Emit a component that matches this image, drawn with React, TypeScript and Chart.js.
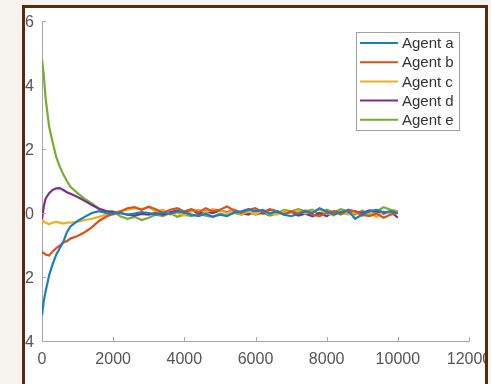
import React, { useEffect, useRef } from "react";
import { Chart, registerables } from "chart.js";

Chart.register(...registerables);

const xs = [
  0, 50, 100, 200, 300, 400, 500, 600, 700, 800, 1000, 1200, 1400, 1600, 1800, 2000,
  2200, 2400, 2600, 2800, 3000, 3200, 3400, 3600, 3800, 4000,
  4200, 4400, 4600, 4800, 5000, 5200, 5400, 5600, 5800, 6000,
  6200, 6400, 6600, 6800, 7000, 7200, 7400, 7600, 7800, 8000,
  8200, 8400, 8600, 8800, 9000, 9200, 9400, 9600, 9800, 10000,
];

const agentA = [
  -3.2, -2.75, -2.45, -1.95, -1.6, -1.3, -1.1, -0.9, -0.6, -0.42, -0.25, -0.12, 0.0, 0.06, 0.0, -0.02,
  0.0, -0.05, -0.02, 0.03, 0.0, -0.05, 0.02, -0.03, 0.05, 0.02,
  -0.05, -0.1, -0.02, -0.12, -0.05, -0.1, 0.02, 0.05, 0.12, 0.05,
  0.1, -0.02, 0.05, -0.05, -0.1, -0.03, 0.05, 0.0, 0.15, 0.05,
  -0.05, 0.03, 0.08, -0.18, -0.05, 0.05, 0.1, 0.02, 0.05, 0.0,
];
const agentB = [
  -1.22, -1.25, -1.3, -1.33, -1.2, -1.1, -1.02, -0.92, -0.88, -0.8, -0.72, -0.6, -0.45, -0.25, -0.12, -0.02,
  0.05, 0.15, 0.18, 0.1, 0.2, 0.12, 0.0, 0.1, 0.15, 0.05,
  0.12, 0.02, 0.15, 0.05, 0.1, 0.2, 0.08, 0.0, 0.1, 0.15,
  0.02, 0.12, 0.05, -0.05, 0.05, -0.02, 0.08, -0.05, -0.1, 0.0,
  0.05, -0.05, 0.1, 0.05, -0.05, -0.1, -0.02, -0.15, -0.05, 0.0,
];
const agentC = [
  -0.2, -0.28, -0.3, -0.35, -0.3, -0.28, -0.3, -0.33, -0.3, -0.3, -0.28, -0.22, -0.18, -0.12, -0.05, -0.05,
  0.05, 0.1, 0.15, 0.12, 0.18, 0.05, 0.1, -0.05, 0.0, -0.08,
  0.05, 0.1, 0.02, 0.12, 0.08, 0.0, 0.1, -0.05, 0.05, -0.03,
  0.08, 0.0, -0.05, 0.05, 0.0, 0.08, -0.02, 0.05, 0.1, 0.0,
  -0.08, 0.05, -0.05, 0.02, -0.1, 0.0, -0.12, 0.05, -0.02, 0.05,
];
const agentD = [
  -0.2, 0.2, 0.45, 0.62, 0.72, 0.77, 0.78, 0.72, 0.65, 0.6, 0.5, 0.38, 0.25, 0.13, 0.05, 0.03,
  0.0, -0.05, -0.08, -0.03, -0.05, 0.0, -0.05, 0.02, 0.08, 0.0,
  0.1, -0.02, 0.05, 0.0, 0.08, 0.02, 0.1, 0.0, -0.05, 0.08,
  -0.02, 0.1, 0.05, 0.0, 0.02, -0.08, -0.02, -0.1, 0.0, -0.1,
  0.05, 0.0, -0.02, 0.05, 0.0, 0.08, 0.05, -0.02, 0.05, -0.15,
];
const agentE = [
  4.8, 4.3, 3.6, 2.7, 2.2, 1.75, 1.45, 1.2, 1.0, 0.82, 0.62, 0.44, 0.3, 0.14, 0.06, 0.05,
  -0.1, -0.18, -0.12, -0.22, -0.15, -0.05, -0.1, 0.0, -0.12, -0.05,
  -0.1, -0.02, -0.08, -0.12, -0.02, -0.08, 0.0, -0.05, 0.02, -0.05,
  0.0, -0.08, -0.02, 0.1, 0.05, 0.12, 0.05, 0.1, -0.05, 0.1,
  0.02, 0.12, 0.05, -0.05, 0.08, -0.05, 0.05, 0.18, 0.1, 0.05,
];

const seriesNames = ["Agent a", "Agent b", "Agent c", "Agent d", "Agent e"];
const seriesValues = [agentA, agentB, agentC, agentD, agentE];
const seriesColors = ["#1a7fc1", "#d95319", "#edb120", "#7e2f8e", "#77ac30"];

const FONT = "'Liberation Sans', Arial, Helvetica, sans-serif";
const AXIS_COLOR = "#a8a8a8";

const innerTicks = {
  id: "innerTicks",
  afterDraw(chart: any) {
    const { ctx, chartArea, scales } = chart;
    const x = scales.x;
    const y = scales.y;
    ctx.save();
    ctx.strokeStyle = AXIS_COLOR;
    ctx.lineWidth = 1;
    ctx.beginPath();
    for (const t of x.ticks) {
      const px = Math.round(x.getPixelForValue(t.value)) + 0.5;
      ctx.moveTo(px, chartArea.bottom);
      ctx.lineTo(px, chartArea.bottom - 4);
    }
    for (const t of y.ticks) {
      const py = Math.round(y.getPixelForValue(t.value)) + 0.5;
      ctx.moveTo(chartArea.left, py);
      ctx.lineTo(chartArea.left + 4, py);
    }
    ctx.stroke();
    ctx.restore();
  },
};

const boxLegend = {
  id: "boxLegend",
  afterDraw(chart: any) {
    const { ctx, chartArea } = chart;
    const boxW = 103;
    const rowH = 19.2;
    const boxH = 98;
    const left = chartArea.right - 10 - boxW;
    const top = chartArea.top + 11;
    ctx.save();
    ctx.fillStyle = "#ffffff";
    ctx.fillRect(left, top, boxW, boxH);
    ctx.strokeStyle = "#a0a0a0";
    ctx.lineWidth = 1;
    ctx.strokeRect(Math.round(left) + 0.5, Math.round(top) + 0.5, boxW, boxH);
    ctx.font = `15px ${FONT}`;
    ctx.textBaseline = "middle";
    ctx.textAlign = "left";
    chart.data.datasets.forEach((ds: any, i: number) => {
      const cy = top + 11 + i * rowH;
      ctx.strokeStyle = ds.borderColor;
      ctx.lineWidth = 2;
      ctx.beginPath();
      ctx.moveTo(left + 4, cy);
      ctx.lineTo(left + 42, cy);
      ctx.stroke();
      ctx.fillStyle = "#333333";
      ctx.fillText(ds.label, left + 46, cy + 1);
    });
    ctx.restore();
  },
};

export default function App() {
  const canvasRef = useRef<HTMLCanvasElement | null>(null);

  useEffect(() => {
    const canvas = canvasRef.current;
    if (!canvas) return;
    const chart = new Chart(canvas, {
      type: "line",
      data: {
        datasets: seriesNames.map((name, i) => ({
          label: name,
          data: xs.map((x, j) => ({ x, y: seriesValues[i][j] })),
          borderColor: seriesColors[i],
          backgroundColor: seriesColors[i],
          borderWidth: 2.2,
          pointRadius: 0,
          tension: 0,
          fill: false,
        })),
      },
      options: {
        responsive: false,
        animation: false,
        layout: { padding: { left: 0, right: 22, top: 21, bottom: 0 } },
        plugins: {
          legend: { display: false },
          tooltip: { enabled: false },
        },
        scales: {
          x: {
            type: "linear",
            min: 0,
            max: 12000,
            grid: { display: false, drawTicks: false },
            border: { display: true, color: AXIS_COLOR, width: 1 },
            ticks: {
              stepSize: 2000,
              padding: 9,
              maxRotation: 0,
              autoSkip: false,
              color: "#555555",
              font: { family: FONT, size: 16 },
              callback: (v: any) => String(v),
            },
            afterFit: (scale: any) => {
              scale.height = 43;
              scale.paddingLeft = 0;
              scale.paddingRight = 0;
            },
          },
          y: {
            type: "linear",
            min: -4,
            max: 6,
            grid: { display: false, drawTicks: false },
            border: { display: true, color: AXIS_COLOR, width: 1 },
            ticks: {
              stepSize: 2,
              padding: 8,
              labelOffset: 2,
              autoSkip: false,
              color: "#555555",
              font: { family: FONT, size: 16 },
              callback: (v: any) => String(v),
            },
            afterFit: (scale: any) => {
              scale.width = 42;
              scale.paddingTop = 0;
              scale.paddingBottom = 0;
            },
          },
        },
      },
      plugins: [innerTicks, boxLegend],
    });
    return () => chart.destroy();
  }, []);

  return (
    <div
      style={{
        position: "fixed",
        left: 0,
        top: 0,
        width: 491,
        height: 384,
        overflow: "hidden",
        background: "#f7f4ef",
      }}
    >
      <div
        style={{
          position: "absolute",
          left: 22,
          top: 5,
          width: 466,
          height: 400,
          boxSizing: "border-box",
          borderLeft: "3px solid #5b2a0c",
          borderTop: "3px solid #5b2a0c",
          borderRight: "3px solid #5b2a0c",
          background: "#ffffff",
          overflow: "hidden",
        }}
      >
        <canvas
          ref={canvasRef}
          width={491}
          height={384}
          style={{ position: "absolute", left: -25, top: -8, width: 491, height: 384 }}
        />
      </div>
    </div>
  );
}
